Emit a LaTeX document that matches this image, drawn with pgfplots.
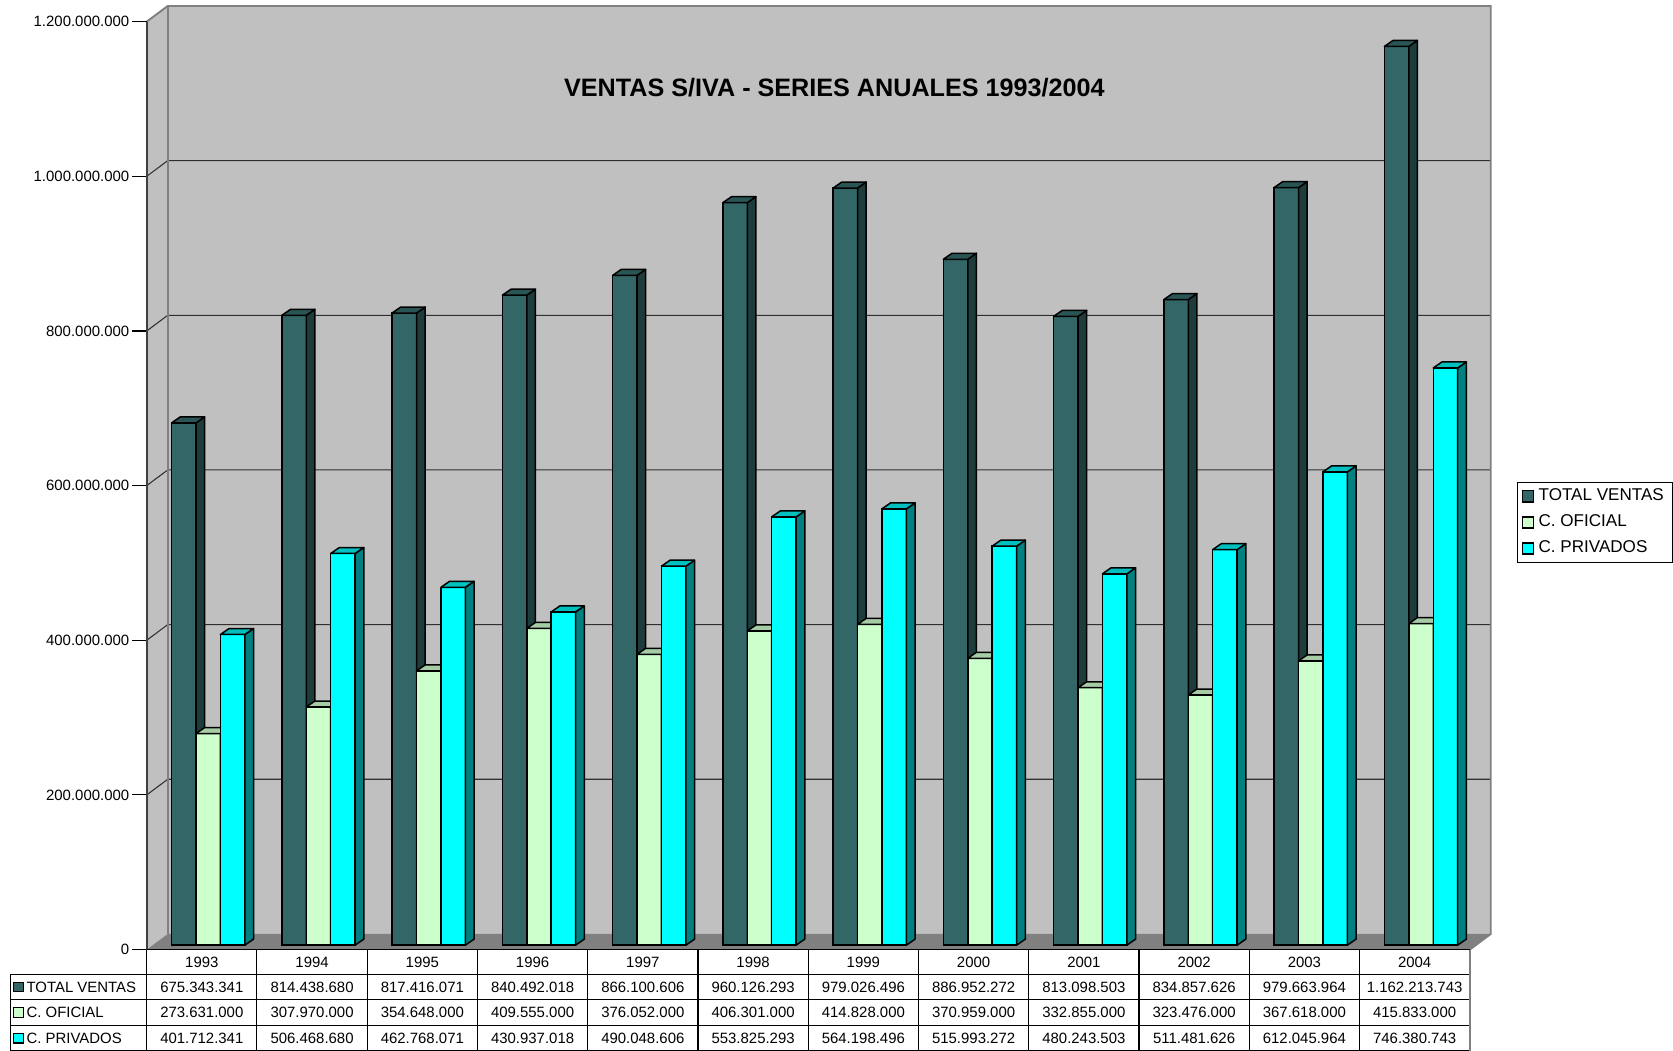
\documentclass[border=0pt]{standalone}
\usepackage{pgfplots}
\usepackage{pgfplotstable}
\pgfplotsset{compat=1.18}
\usepackage{fontspec}
\setmainfont{Liberation Sans}
\definecolor{tvF}{HTML}{336666}
\definecolor{tvS}{HTML}{1E3C3C}
\definecolor{tvT}{HTML}{2A5555}
\definecolor{coF}{HTML}{CCFFCC}
\definecolor{coS}{HTML}{7A997A}
\definecolor{coT}{HTML}{A6CCA6}
\definecolor{cpF}{HTML}{00FFFF}
\definecolor{cpS}{HTML}{008080}
\definecolor{cpT}{HTML}{00BFBF}
\definecolor{wallgray}{HTML}{C0C0C0}
\definecolor{floorgray}{HTML}{808080}
\definecolor{bordergray}{HTML}{808080}
\definecolor{axisgray}{HTML}{404040}
\definecolor{gridc}{HTML}{303030}

% values in millions
\pgfplotstableread{
x    tv            co         cp
0.5  675.343341    273.631    401.712341
1.5  814.438680    307.970    506.468680
2.5  817.416071    354.648    462.768071
3.5  840.492018    409.555    430.937018
4.5  866.100606    376.052    490.048606
5.5  960.126293    406.301    553.825293
6.5  979.026496    414.828    564.198496
7.5  886.952272    370.959    515.993272
8.5  813.098503    332.855    480.243503
9.5  834.857626    323.476    511.481626
10.5 979.663964    367.618    612.045964
11.5 1162.213743   415.833    746.380743
}\datatable

\newcommand{\yu}{0.362375}% pt per million (434.85pt / 1200)
\newcommand{\bw}{11.45}
\newcommand{\barfaces}[4]{%
  \pgfkeys{/pgf/fpu=false}%
  \pgfmathsetmacro\hh{\ry*\yu}%
  \filldraw[fill=#4, draw=black, line width=0.7pt, line join=round]
    ({#1pt-0.5*\bw pt},0pt) rectangle ++(\bw pt,{-\hh pt});
  \filldraw[fill=#2, draw=black, line width=0.7pt, line join=round]
    ({#1pt+0.5*\bw pt},0pt) -- ++(4.05pt,2.8pt) -- ++(0pt,{-\hh pt}) -- ++(-4.05pt,-2.8pt) -- cycle;
  \filldraw[fill=#3, draw=black, line width=0.7pt, line join=round]
    ({#1pt-0.5*\bw pt},0pt) -- ++(4.05pt,2.8pt) -- ++(\bw pt,0pt) -- ++(-4.05pt,-2.8pt) -- cycle;
}
\pgfplotsset{
  faces/.style 2 args={forget plot, scatter, only marks, mark=*, mark size=0pt,
    mark options={draw=none, fill=none},
    visualization depends on={rawy \as \ry},
    scatter/@pre marker code/.code={#2},
    scatter/@post marker code/.code={}},
}

\begin{document}
\begin{tikzpicture}
\path[use as bounding box] (0,0) rectangle (784pt,-492.5pt);
% ---------- walls and floor ----------
\begin{scope}[x=0.5pt,y=-0.5pt]
  \fill[wallgray] (137.5,890) -- (137.5,20.3) -- (157.2,5.6) -- (157.2,875.3) -- cycle;
  \fill[wallgray] (157.2,5.6) rectangle (1397.2,875.3);
  \fill[floorgray] (137.5,890) -- (1377.5,890) -- (1397.2,875.3) -- (157.2,875.3) -- cycle;
  \foreach \k in {1,...,5} {
    \pgfmathsetmacro\yf{890-\k*144.95}
    \draw[gridc, line width=0.5pt] (137.5,\yf) -- (157.2,{\yf-14.7}) -- (1397.2,{\yf-14.7});
  }
  \draw[bordergray, line width=0.9pt] (137.5,20.3) -- (157.2,5.6) -- (1397.2,5.6) -- (1397.2,875.3) -- (1377.5,890);
  \draw[bordergray, line width=0.8pt] (157.2,5.6) -- (157.2,875.3);
\end{scope}

% ---------- front plane axis: y ticks, years, title ----------
\begin{axis}[
  at={(68.75pt,-445pt)}, anchor=south west,
  scale only axis, width=620pt, height=434.85pt,
  xmin=0, xmax=12, ymin=0, ymax=1200,
  axis y line*=left, axis x line*=bottom,
  x axis line style={draw=none},
  y axis line style={draw=axisgray, line width=1pt},
  ytick={0,200,400,600,800,1000,1200},
  yticklabels={0,200.000.000,400.000.000,600.000.000,800.000.000,1.000.000.000,1.200.000.000},
  xtick={0.5,1.5,2.5,3.5,4.5,5.5,6.5,7.5,8.5,9.5,10.5,11.5},
  xticklabels={1993,1994,1995,1996,1997,1998,1999,2000,2001,2002,2003,2004},
  tick align=outside, major tick length=7pt,
  ytick style={draw=black, line width=0.5pt},
  xtick style={draw=none},
  yticklabel style={font=\fontsize{7}{8}\selectfont, inner sep=1pt},
  xticklabel style={font=\fontsize{7}{8}\selectfont, anchor=base, inner sep=0pt, yshift=-1.5pt},
  title={VENTAS S/IVA - SERIES ANUALES 1993/2004},
  title style={at={(0.5198,0.9152)}, anchor=center, font=\bfseries\fontsize{11.8}{14}\selectfont},
]
\end{axis}

% ---------- bars axis (mid depth) ----------
\begin{axis}[
  at={(71.75pt,-442.9pt)}, anchor=south west,
  scale only axis, width=620pt, height=434.85pt,
  xmin=0, xmax=12, ymin=0, ymax=1200,
  hide axis, clip=false,
  bar width=11.45pt,
  legend cell align=left,
  legend style={at={(1.031,0.4988)}, anchor=north west, draw=black, line width=0.5pt,
    fill=white, font=\fontsize{8}{9.6}\selectfont, inner xsep=2pt, inner ysep=0.8pt, row sep=1.15pt},
]
\addplot[ybar, bar shift=-11.45pt, fill=tvF, draw=black, line width=0.7pt,
  legend image code/.code={\draw[fill=tvF,draw=black,line width=0.6pt] (0pt,-2.6pt) rectangle (5.2pt,2.6pt);}]
  table[x=x, y=tv] \datatable;
\addlegendentry{TOTAL VENTAS}
\addplot[ybar, bar shift=0pt, fill=coF, draw=black, line width=0.7pt,
  legend image code/.code={\draw[fill=coF,draw=black,line width=0.6pt] (0pt,-2.6pt) rectangle (5.2pt,2.6pt);}]
  table[x=x, y=co] \datatable;
\addlegendentry{C. OFICIAL}
\addplot[ybar, bar shift=11.45pt, fill=cpF, draw=black, line width=0.7pt,
  legend image code/.code={\draw[fill=cpF,draw=black,line width=0.6pt] (0pt,-2.6pt) rectangle (5.2pt,2.6pt);}]
  table[x=x, y=cp] \datatable;
\addlegendentry{C. PRIVADOS}
% 3-D prisms (front, side and top faces), drawn in series order
\addplot[faces={}{\barfaces{-11.45}{tvS}{tvT}{tvF}}] table[x=x, y=tv] \datatable;
\addplot[faces={}{\barfaces{0}{coS}{coT}{coF}}] table[x=x, y=co] \datatable;
\addplot[faces={}{\barfaces{11.45}{cpS}{cpT}{cpF}}] table[x=x, y=cp] \datatable;
\end{axis}

% ---------- data table ----------
\begin{scope}[x=0.5pt,y=-0.5pt, font=\fontsize{7}{8}\selectfont]
  \draw[black, line width=0.6pt] (137.5,890) -- (1377.5,890);
  \foreach \yy in {913,937,961,984.5}
    \draw[black, line width=0.5pt] (10,\yy) -- (1377.5,\yy);
  \draw[black, line width=0.5pt] (10,913) -- (10,985);
  \foreach \k in {0,...,11}
    \draw[black, line width=0.5pt] ({137.5+103.3333*\k},890) -- ({137.5+103.3333*\k},985);
  \draw[bordergray, line width=1pt] (1377.5,890) -- (1377.5,985);
  % row labels
  \draw[fill=tvF, draw=black, line width=0.5pt] (13,920.5) rectangle (22,929.5);
  \node[anchor=west, inner sep=0pt] at (24.5,925) {TOTAL VENTAS};
  \draw[fill=coF, draw=black, line width=0.5pt] (13,944.5) rectangle (22,953.5);
  \node[anchor=west, inner sep=0pt] at (24.5,949) {C. OFICIAL};
  \draw[fill=cpF, draw=black, line width=0.5pt] (13,968.5) rectangle (22,977.5);
  \node[anchor=west, inner sep=0pt] at (24.5,973) {C. PRIVADOS};
  \foreach \v [count=\i from 0] in {675.343.341,814.438.680,817.416.071,840.492.018,866.100.606,960.126.293,979.026.496,886.952.272,813.098.503,834.857.626,979.663.964,1.162.213.743}
    \node[inner sep=0pt] at ({137.5+103.3333*(\i+0.5)},925) {\v};
  \foreach \v [count=\i from 0] in {273.631.000,307.970.000,354.648.000,409.555.000,376.052.000,406.301.000,414.828.000,370.959.000,332.855.000,323.476.000,367.618.000,415.833.000}
    \node[inner sep=0pt] at ({137.5+103.3333*(\i+0.5)},949) {\v};
  \foreach \v [count=\i from 0] in {401.712.341,506.468.680,462.768.071,430.937.018,490.048.606,553.825.293,564.198.496,515.993.272,480.243.503,511.481.626,612.045.964,746.380.743}
    \node[inner sep=0pt] at ({137.5+103.3333*(\i+0.5)},973) {\v};
\end{scope}
\end{tikzpicture}
\end{document}
